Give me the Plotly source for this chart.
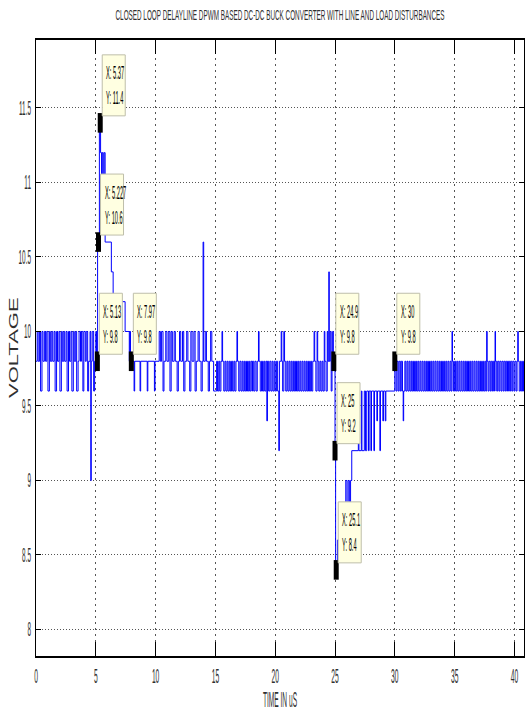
import plotly.graph_objects as go

# ---------------- data ----------------
title_text = "CLOSED LOOP DELAYLINE DPWM BASED DC-DC BUCK CONVERTER WITH LINE AND LOAD DISTURBANCES"
x_title = "TIME IN uS"
y_title = "VOLTAGE"

x_ticks = [0, 5, 10, 15, 20, 25, 30, 35, 40]
y_ticks = [8, 8.5, 9, 9.5, 10, 10.5, 11, 11.5]
y_tick_labels = ["8", "8.5", "9", "9.5", "10", "10.5", "11", "11.5"]

# step signal, (time in uS, voltage) breakpoints
seg_start = [
    (0.00, 9.8), (0.10, 10.0), (0.18, 9.8), (0.30, 10.0), (0.38, 9.6), (0.50, 10.0), (0.58, 9.8), (0.70, 10.0),
    (0.80, 9.8), (0.90, 10.0), (1.00, 9.6), (1.12, 10.0), (1.20, 9.8), (1.32, 10.0), (1.40, 9.8), (1.52, 10.0),
    (1.60, 9.6), (1.72, 10.0), (1.80, 9.8), (1.92, 10.0), (2.00, 9.6), (2.12, 10.0), (2.20, 9.8), (2.32, 10.0),
    (2.40, 9.8), (2.52, 10.0), (2.60, 9.6), (2.72, 10.0), (2.80, 9.8), (2.92, 10.0), (3.00, 9.6), (3.12, 10.0),
    (3.20, 9.8), (3.32, 10.0), (3.40, 9.6), (3.52, 9.8), (3.60, 10.0), (3.72, 9.8), (3.80, 10.0), (3.92, 9.6),
    (4.00, 10.0), (4.12, 9.8), (4.20, 10.0), (4.32, 9.6), (4.40, 9.8), (4.52, 10.0), (4.58, 9.0), (4.62, 9.8),
    (4.70, 10.0), (4.82, 9.6), (4.90, 9.8), (5.00, 10.0), (5.06, 9.8),
]
seg_overshoot = [
    (5.15, 10.6), (5.30, 11.4), (5.40, 11.2), (5.48, 11.0), (5.54, 11.2), (5.62, 11.0), (5.70, 11.2), (5.78, 10.6),
    (6.30, 10.4), (6.45, 10.2), (7.45, 10.0), (7.80, 9.8), (7.85, 10.0), (7.90, 9.8), (8.20, 9.6), (8.25, 9.8),
    (8.70, 9.6), (8.75, 9.8), (9.30, 9.6), (9.35, 9.8), (9.90, 9.6), (9.95, 9.8),
]
seg_line = [
    (10.30, 10.0), (10.40, 9.8), (10.50, 10.0), (10.62, 9.6), (10.70, 9.8), (10.85, 10.0), (10.95, 9.8), (11.10, 10.0),
    (11.20, 9.6), (11.30, 10.0), (11.40, 9.8), (11.55, 10.0), (11.65, 9.8), (11.80, 9.6), (11.90, 9.8), (12.00, 10.0),
    (12.10, 9.8), (12.25, 10.0), (12.35, 9.6), (12.45, 9.8), (12.60, 10.0), (12.70, 9.8), (12.85, 9.6), (12.95, 10.0),
    (13.05, 9.8), (13.20, 10.0), (13.30, 9.6), (13.40, 9.8), (13.55, 10.0), (13.65, 9.8), (13.80, 9.6), (13.90, 9.8),
    (13.97, 10.6), (14.02, 9.8), (14.15, 10.0), (14.25, 9.8), (14.40, 9.6), (14.50, 9.8), (14.60, 10.0), (14.70, 9.8),
    (14.85, 9.6),
]
seg_band = [
    (15.00, 9.6), (15.10, 9.8), (15.18, 9.6), (15.28, 9.8), (15.36, 9.6), (15.46, 9.8), (15.55, 10.0), (15.60, 9.8),
    (15.70, 9.6), (15.80, 9.8), (15.88, 9.6), (15.98, 9.8), (16.06, 9.6), (16.16, 9.8), (16.25, 9.6), (16.35, 9.8),
    (16.44, 9.6), (16.54, 9.8), (16.62, 9.6), (16.72, 9.8), (16.80, 10.0), (16.85, 9.8), (16.95, 9.6), (17.05, 9.8),
    (17.14, 9.6), (17.24, 9.8), (17.32, 9.6), (17.42, 9.8), (17.50, 9.6), (17.60, 9.8), (17.68, 9.6), (17.78, 9.8),
    (17.86, 9.6), (17.96, 9.8), (18.05, 9.6), (18.10, 9.8), (18.20, 9.6), (18.30, 9.8), (18.40, 9.6), (18.50, 9.8),
    (18.60, 10.0), (18.65, 9.8), (18.75, 9.6), (18.85, 9.8), (18.94, 9.6), (19.04, 9.8), (19.12, 9.6), (19.22, 9.8),
    (19.30, 9.4), (19.35, 9.8), (19.45, 9.6), (19.55, 9.8), (19.64, 9.6), (19.74, 9.8), (19.82, 9.6), (19.92, 9.8),
    (20.00, 9.6), (20.10, 9.8), (20.20, 9.6), (20.30, 9.2), (20.35, 9.8), (20.50, 10.0), (20.55, 9.8), (20.62, 9.6),
    (20.72, 10.0), (20.78, 9.8), (20.88, 9.6), (20.98, 9.8), (21.06, 9.6), (21.16, 9.8), (21.24, 9.6), (21.34, 9.8),
    (21.42, 9.6), (21.52, 9.8), (21.60, 9.6), (21.70, 9.8), (21.78, 9.6), (21.88, 9.8), (21.96, 9.6), (22.06, 9.8),
    (22.14, 9.6), (22.24, 9.8), (22.32, 9.6), (22.42, 9.8), (22.50, 9.6), (22.60, 9.8), (22.68, 9.6), (22.78, 9.8),
    (22.86, 9.6), (22.96, 9.8), (23.04, 9.6), (23.14, 9.8), (23.25, 10.0), (23.30, 9.8), (23.40, 9.6), (23.50, 10.0),
    (23.55, 9.8), (23.64, 9.6), (23.74, 9.8), (23.82, 9.6), (23.92, 9.8), (24.00, 9.6), (24.10, 10.0), (24.15, 9.8),
    (24.25, 9.6), (24.35, 10.0), (24.40, 9.8), (24.48, 10.4), (24.52, 9.8), (24.60, 10.0), (24.68, 9.6), (24.75, 9.8),
    (24.80, 10.0), (24.86, 9.8),
]
seg_load = [
    (25.00, 9.2), (25.05, 8.4), (25.20, 8.6), (25.50, 8.8), (25.90, 9.0), (26.00, 8.8), (26.10, 9.0), (26.20, 8.8),
    (26.30, 9.0), (26.40, 9.2), (26.95, 9.6), (27.00, 9.2), (27.20, 9.6), (27.25, 9.2), (27.45, 9.6), (27.55, 9.2),
    (27.65, 9.6), (27.80, 9.2), (27.85, 9.6), (28.00, 9.2), (28.05, 9.6), (28.25, 9.2), (28.30, 9.6), (28.50, 9.4),
    (28.55, 9.6), (28.75, 9.2), (28.80, 9.6), (29.00, 9.4), (29.05, 9.6), (29.20, 9.4), (29.25, 9.6),
]
seg_final = [
    (30.00, 9.8), (30.10, 9.6), (30.18, 9.8), (30.28, 9.6), (30.36, 9.8), (30.46, 9.6), (30.54, 9.8), (30.64, 9.6),
    (30.70, 9.4), (30.74, 9.6), (30.84, 9.8), (30.92, 9.6), (31.02, 9.8), (31.10, 9.6), (31.20, 9.8), (31.28, 9.6),
    (31.38, 9.8), (31.46, 9.6), (31.56, 9.8), (31.64, 9.6), (31.74, 9.8), (31.82, 9.6), (31.92, 9.8), (32.00, 9.6),
    (32.10, 9.8), (32.18, 9.6), (32.28, 9.8), (32.36, 9.6), (32.46, 9.8), (32.54, 9.6), (32.64, 9.8), (32.72, 9.6),
    (32.82, 9.8), (32.90, 9.6), (33.00, 9.8), (33.08, 9.6), (33.18, 9.8), (33.26, 9.6), (33.36, 9.8), (33.44, 9.6),
    (33.54, 9.8), (33.62, 9.6), (33.72, 9.8), (33.80, 9.6), (33.90, 9.8), (33.98, 9.6), (34.08, 9.8), (34.16, 9.6),
    (34.26, 9.8), (34.34, 9.6), (34.44, 9.8), (34.52, 9.6), (34.62, 9.8), (34.70, 9.6), (34.78, 10.0), (34.82, 9.8),
    (34.90, 9.6), (35.00, 9.8), (35.08, 9.6), (35.18, 9.8), (35.26, 9.6), (35.36, 9.8), (35.44, 9.6), (35.54, 9.8),
    (35.62, 9.6), (35.72, 9.8), (35.80, 9.6), (35.90, 9.8), (35.98, 9.6), (36.08, 9.8), (36.16, 9.6), (36.26, 9.8),
    (36.34, 9.6), (36.44, 9.8), (36.52, 9.6), (36.62, 9.8), (36.70, 9.6), (36.80, 9.8), (36.88, 9.6), (36.98, 9.8),
    (37.06, 9.6), (37.16, 9.8), (37.24, 9.6), (37.34, 9.8), (37.42, 9.6), (37.52, 9.8), (37.60, 9.6), (37.68, 10.0),
    (37.72, 9.8), (37.80, 9.6), (37.88, 9.8), (37.98, 9.6), (38.06, 9.8), (38.16, 9.6), (38.24, 9.8), (38.34, 9.6),
    (38.38, 10.0), (38.42, 9.8), (38.52, 9.6), (38.60, 9.8), (38.70, 9.6), (38.78, 9.8), (38.88, 9.6), (38.96, 9.8),
    (39.06, 9.6), (39.14, 9.8), (39.24, 9.6), (39.32, 9.8), (39.42, 9.6), (39.50, 9.8), (39.60, 9.6), (39.68, 9.8),
    (39.78, 9.6), (39.86, 9.8), (39.96, 9.6), (40.04, 9.8), (40.14, 9.6), (40.22, 9.8), (40.28, 10.0), (40.32, 9.8),
    (40.40, 9.6), (40.50, 9.8), (40.58, 9.6), (40.68, 9.8), (40.76, 9.6), (40.86, 9.8),
]

# data tips shown on the chart
tip_x = [5.37, 5.227, 5.13, 7.97, 24.9, 25, 25.1, 30]
tip_y = [11.4, 10.6, 9.8, 9.8, 9.8, 9.2, 8.4, 9.8]

# ---------------- figure ----------------
points = seg_start + seg_overshoot + seg_line + seg_band + seg_load + seg_final
t_vals = [p[0] for p in points]
v_vals = [p[1] for p in points]

FONT = "Liberation Sans, Arial, sans-serif"
TXT = "#303030"

fig = go.Figure()
fig.add_trace(go.Scatter(
    x=t_vals, y=v_vals, mode="lines", line=dict(color="#0000ff", width=1, shape="hv"),
    hoverinfo="skip",
))

# data-tip boxes (anchored on the data point, sized in pixels)
for xv, yv in zip(tip_x, tip_y):
    fig.add_shape(
        type="rect", xref="x", yref="y",
        xsizemode="pixel", ysizemode="pixel", xanchor=xv, yanchor=yv,
        x0=2, x1=25, y0=7, y1=68,
        fillcolor="rgb(255,255,225)", line=dict(color="rgb(190,190,170)", width=1),
        layer="above",
    )
    fig.add_annotation(
        x=xv, y=yv, xref="x", yref="y",
        text=f"X: {xv:g}<br>Y: {yv:g}",
        showarrow=False, xanchor="left", yanchor="middle", xshift=4, yshift=37.5,
        align="left",
        font=dict(family=FONT, size=19, color="black"),
    )

fig.add_trace(go.Scatter(
    x=tip_x, y=tip_y, mode="markers",
    marker=dict(symbol="line-ns", size=14, color="black", line=dict(color="black", width=5)),
    hoverinfo="skip",
))

# y axis title as a rotated annotation
fig.add_annotation(
    x=0, y=0.5, xref="paper", yref="paper", text=y_title, textangle=-90,
    showarrow=False, xanchor="center", yanchor="middle", xshift=-23,
    font=dict(family=FONT, size=22, color=TXT),
)

axis_common = dict(
    showline=True, linecolor="black", mirror="ticks",
    ticks="inside", tickcolor="black",
    showgrid=True, gridcolor="#555555", gridwidth=1,
    zeroline=False, automargin=False, ticklabeloverflow="allow",
)

fig.update_layout(
    width=527, height=712,
    margin=dict(l=36, r=3, t=40, b=56),
    paper_bgcolor="white", plot_bgcolor="white",
    showlegend=False,
    title=dict(text=title_text, x=0.5, xref="paper", xanchor="center",
               y=1 - 15 / 712, yref="container", yanchor="middle", automargin=False,
               font=dict(family=FONT, size=15.5, color=TXT)),
    xaxis=dict(range=[0, 40.8], tickvals=x_ticks, ticklen=14, linewidth=2, griddash="2px,4px",
               tickfont=dict(family=FONT, size=21, color=TXT),
               title=dict(text=x_title, font=dict(family=FONT, size=22, color=TXT), standoff=2),
               **axis_common),
    yaxis=dict(range=[7.822, 11.956], tickvals=y_ticks, ticktext=y_tick_labels, ticklen=5, linewidth=1,
               griddash="1px,2px",
               tickfont=dict(family=FONT, size=20, color=TXT),
               **axis_common),
)

# The reference picture is horizontally compressed: squeeze the text the same way
# (along whichever local axis of each text maps onto the screen's horizontal).
squeeze_js = """
document.body.style.margin = '0';
var gd = document.getElementById('{plot_id}');
function squeeze() {
  gd.querySelectorAll('svg text').forEach(function (t) {
    if (t.getAttribute('data-sq')) return;
    var cls = t.getAttribute('class') || '';
    var b, m;
    try { b = t.getBBox(); m = t.getCTM(); } catch (e) { return; }
    if (!b || b.width === 0 || !m) return;
    var tr = t.getAttribute('transform') || '';
    var alongX = Math.abs(m.a) >= Math.abs(m.c);
    if (!alongX) {
      var cy = b.y + b.height / 2;
      t.setAttribute('transform', tr + ' translate(0,' + cy + ') scale(1,0.55) translate(0,' + (-cy) + ')');
    } else {
      var s = 0.32;
      if (cls.indexOf('gtitle') >= 0) s = 0.41;
      else if (cls.indexOf('xtitle') >= 0) s = 0.3;
      else if (cls.indexOf('annotation-text') >= 0) s = 0.3;
      var anchor = t.getAttribute('text-anchor') || 'start';
      var ox = anchor === 'middle' ? b.x + b.width / 2 : (anchor === 'end' ? b.x + b.width : b.x);
      t.setAttribute('transform', tr + ' translate(' + ox + ',0) scale(' + s + ',1) translate(' + (-ox) + ',0)');
    }
    t.setAttribute('data-sq', '1');
  });
}
squeeze();
new MutationObserver(function () { squeeze(); }).observe(gd, {childList: true, subtree: true});
[50, 200, 400, 700, 1000, 1500, 2500].forEach(function (ms) { setTimeout(squeeze, ms); });
"""

fig.write_html("out.html", post_script=squeeze_js, config={"displayModeBar": False})
